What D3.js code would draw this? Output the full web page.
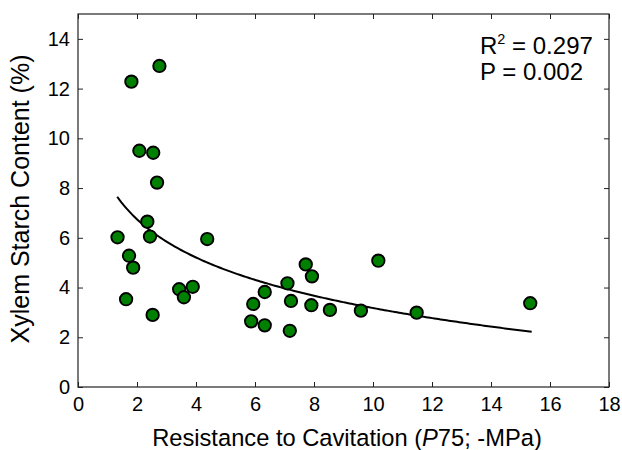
<!DOCTYPE html>
<html>
<head>
<meta charset="utf-8">
<script src="https://cdn.jsdelivr.net/npm/d3@7"></script>
<style>
  html, body { margin: 0; padding: 0; background: #fff; }
  svg text { font-family: "Liberation Sans", Arial, sans-serif; fill: #000; }
</style>
</head>
<body>
<svg id="chart" width="622" height="450"></svg>
<script>
// Data (x = resistance to cavitation, -MPa; y = xylem starch content, %)
const xValues = [1.34, 1.63, 1.73, 1.81, 1.87, 2.08, 2.35, 2.44, 2.53, 2.55, 2.68, 2.76,
                 3.43, 3.59, 3.89, 4.38, 5.87, 5.94, 6.33, 6.33, 7.10, 7.22, 7.18, 7.72,
                 7.93, 7.91, 8.54, 9.59, 10.18, 11.48, 15.33];
const yValues = [6.02, 3.53, 5.28, 12.28, 4.80, 9.50, 6.65, 6.05, 2.90, 9.42, 8.22, 12.91,
                 3.93, 3.61, 4.03, 5.95, 2.64, 3.34, 3.82, 2.48, 4.17, 3.46, 2.26, 4.93,
                 4.45, 3.29, 3.10, 3.07, 5.08, 2.99, 3.37];
const xTicks = [0, 2, 4, 6, 8, 10, 12, 14, 16, 18];
const yTicks = [0, 2, 4, 6, 8, 10, 12, 14];
// Logarithmic fit y = a + b*ln(x), drawn over the observed x range
const fitCoef = [8.283, -2.218];
const fitRange = [1.33, 15.38];
const statsLines = ["0.297", "0.002"];

const svg = d3.select("#chart");
const x = d3.scaleLinear().domain([0, 18]).range([78, 609]);
const y = d3.scaleLinear().domain([0, 15]).range([387, 14]);

// frame
svg.append("rect")
  .attr("x", x(0)).attr("y", y(15))
  .attr("width", x(18) - x(0)).attr("height", y(0) - y(15))
  .attr("fill", "none").attr("stroke", "#222").attr("stroke-width", 1.2);

const fs = "20px";
const gx = svg.append("g").attr("transform", `translate(0,${y(0)})`)
  .call(d3.axisBottom(x).tickValues(xTicks).tickSizeInner(-5).tickSizeOuter(0).tickPadding(10).tickFormat(d3.format("d")));
const gxt = svg.append("g").attr("transform", `translate(0,${y(15)})`)
  .call(d3.axisTop(x).tickValues(xTicks).tickSizeInner(-5).tickSizeOuter(0).tickFormat(""));
const gy = svg.append("g").attr("transform", `translate(${x(0)},0)`)
  .call(d3.axisLeft(y).tickValues(yTicks).tickSizeInner(-5).tickSizeOuter(0).tickPadding(8).tickFormat(d3.format("d")));
const gyr = svg.append("g").attr("transform", `translate(${x(18)},0)`)
  .call(d3.axisRight(y).tickValues(yTicks).tickSizeInner(-5).tickSizeOuter(0).tickFormat(""));

[gx, gxt, gy, gyr].forEach(g => {
  g.select(".domain").remove();
  g.selectAll(".tick line").attr("stroke", "#222").attr("stroke-width", 1);
  g.selectAll(".tick text").attr("font-size", fs).attr("font-family", "Liberation Sans, Arial, sans-serif").attr("fill", "#000");
});

// fit curve
const fitX = d3.range(0, 201).map(i => fitRange[0] + (fitRange[1] - fitRange[0]) * i / 200);
const line = d3.line().x(d => x(d)).y(d => y(fitCoef[0] + fitCoef[1] * Math.log(d)));
svg.append("path").datum(fitX)
  .attr("d", line).attr("fill", "none").attr("stroke", "#000").attr("stroke-width", 2);

// points
svg.append("g").selectAll("circle")
  .data(xValues.map((d, i) => [d, yValues[i]]))
  .join("circle")
  .attr("cx", d => x(d[0])).attr("cy", d => y(d[1]))
  .attr("r", 6.2)
  .attr("fill", "#008000").attr("stroke", "#000").attr("stroke-width", 1.9);

// stats text
const st = svg.append("text").attr("x", 480).attr("y", 54).attr("font-size", "24px");
st.append("tspan").text("R");
st.append("tspan").attr("font-size", "14.5px").attr("dy", -10).text("2");
st.append("tspan").attr("dy", 10).text(" = " + statsLines[0]);
svg.append("text").attr("x", 480).attr("y", 80).attr("font-size", "24px").text("P = " + statsLines[1]);

// axis titles
const xt = svg.append("text").attr("x", 347).attr("y", 446).attr("text-anchor", "middle").attr("font-size", "23.7px");
xt.append("tspan").text("Resistance to Cavitation (");
xt.append("tspan").attr("font-style", "italic").text("P");
xt.append("tspan").text("75; -MPa)");

svg.append("text")
  .attr("transform", `translate(29,199) rotate(-90)`)
  .attr("text-anchor", "middle").attr("font-size", "25px")
  .text("Xylem Starch Content (%)");
</script>
</body>
</html>
